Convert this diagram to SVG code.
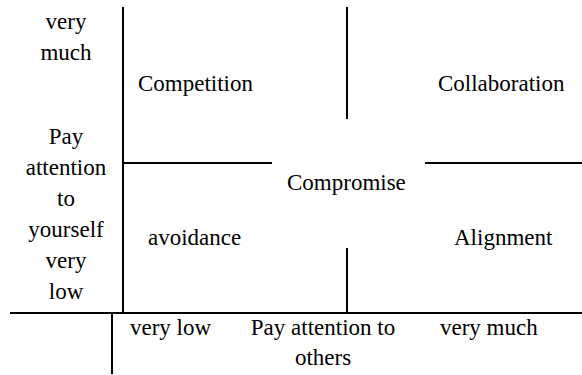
<svg xmlns="http://www.w3.org/2000/svg" width="582" height="375" viewBox="0 0 582 375">
<style>
text{font-family:'Liberation Serif','Times New Roman',serif;font-size:23px;fill:#000}
.c{text-anchor:middle}
line{stroke:#000;stroke-width:2}
</style>
<rect width="582" height="375" fill="#fff"/>
<g id="connectors">
<line x1="123" y1="7" x2="123" y2="313"/>
<line x1="10" y1="313" x2="582" y2="313"/>
<line x1="112" y1="313" x2="112" y2="374"/>
<line x1="347" y1="7" x2="347" y2="119"/>
<line x1="123" y1="163" x2="272" y2="163"/>
<line x1="425" y1="163" x2="582" y2="163"/>
<line x1="347" y1="248" x2="347" y2="313"/>
</g>
<g id="y-axis-label">
<text class="c" x="66" y="29">very</text>
<text class="c" x="66" y="60">much</text>
<text class="c" x="66" y="144">Pay</text>
<text class="c" x="66" y="175">attention</text>
<text class="c" x="66" y="206">to</text>
<text class="c" x="66" y="237">yourself</text>
<text class="c" x="66" y="268">very</text>
<text class="c" x="66" y="299">low</text>
</g>
<g id="competition"><text x="138" y="91">Competition</text></g>
<g id="collaboration"><text x="438" y="91">Collaboration</text></g>
<g id="compromise"><text x="287" y="190">Compromise</text></g>
<g id="avoidance"><text x="148" y="245">avoidance</text></g>
<g id="alignment"><text x="454" y="245">Alignment</text></g>
<g id="x-axis-label">
<text x="130" y="335">very low</text>
<text class="c" x="323" y="335">Pay attention to</text>
<text class="c" x="323" y="365">others</text>
<text x="440" y="335">very much</text>
</g>
</svg>
